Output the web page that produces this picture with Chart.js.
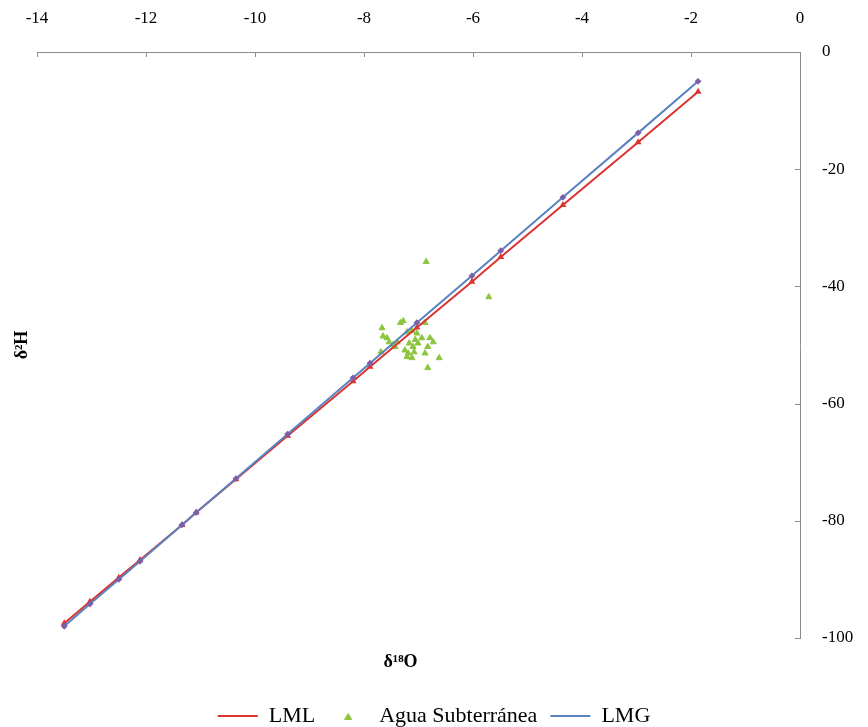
<!DOCTYPE html>
<html>
<head>
<meta charset="utf-8">
<script src="https://cdn.jsdelivr.net/npm/chart.js"></script>
<style>
    body { margin: 0; background: #fff; }
    #wrap { width: 868px; height: 727px; position: relative; }
</style>
</head>
<body>
<div id="wrap"><canvas id="isoChart"></canvas></div>
<script>
    // δ18O positions of the line points (same for both lines)
    const lineX = [-13.5, -13.03, -12.5, -12.11, -11.34, -11.08, -10.35, -9.4, -8.2, -7.89, -7.03, -6.02, -5.49, -4.35, -2.97, -1.87];
    // local meteoric line (LML)
    const lmlY = [-97.5, -93.8, -89.7, -86.7, -80.7, -78.6, -72.9, -65.5, -56.2, -53.7, -47.0, -39.2, -35.0, -26.1, -15.4, -6.8];
    // global meteoric line (LMG)
    const lmgY = [-98.0, -94.2, -90.0, -86.9, -80.7, -78.6, -72.8, -65.2, -55.6, -53.1, -46.2, -38.2, -33.9, -24.8, -13.8, -5.0];
    // groundwater samples
    const aguaX = [-6.86, -5.71, -7.67, -7.28, -7.33, -6.88, -7.65, -7.58, -7.54, -7.47, -7.39, -7.69, -7.21, -7.12, -7.03, -7.06, -7.17, -7.10, -7.01, -6.94, -6.79, -6.73, -6.83, -7.25, -7.19, -7.08, -7.12, -7.21, -6.88, -6.62, -6.83, -7.43];
    const aguaY = [-35.8, -41.8, -47.1, -45.9, -46.2, -46.2, -48.5, -48.8, -49.5, -50.0, -49.5, -51.2, -47.8, -47.6, -48.0, -49.1, -49.7, -50.3, -49.7, -48.8, -48.8, -49.5, -50.3, -50.9, -51.4, -51.2, -52.2, -52.0, -51.4, -52.2, -53.9, -50.3];
    const xTicks = [-14, -12, -10, -8, -6, -4, -2, 0];
    const yTicks = [0, -20, -40, -60, -80, -100];

    const serif = "'Liberation Serif', 'Times New Roman', serif";
    const green = '#8cc63f';
    const toPoints = (xs, ys) => xs.map((x, i) => ({ x: x, y: ys[i] }));

    // small triangle used as the legend symbol of the samples
    const legendTri = document.createElement('canvas');
    legendTri.width = 8;
    legendTri.height = 7;
    (function() {
        const c = legendTri.getContext('2d');
        c.fillStyle = green;
        c.beginPath();
        c.moveTo(4, 0);
        c.lineTo(8, 7);
        c.lineTo(0, 7);
        c.closePath();
        c.fill();
    })();

    // small tick marks pointing into the plot, like the original
    const innerTicks = {
        id: 'innerTicks',
        afterDraw(chart) {
            const ctx = chart.ctx;
            const area = chart.chartArea;
            const xs = chart.scales.x, ys = chart.scales.y;
            ctx.save();
            ctx.strokeStyle = '#8c8c8c';
            ctx.lineWidth = 1;
            ctx.beginPath();
            xTicks.forEach(v => {
                const px = Math.round(xs.getPixelForValue(v)) + 0.5;
                ctx.moveTo(px, area.top);
                ctx.lineTo(px, area.top + 5);
            });
            yTicks.forEach(v => {
                const py = Math.round(ys.getPixelForValue(v)) + 0.5;
                ctx.moveTo(area.right, py);
                ctx.lineTo(area.right - 5, py);
            });
            ctx.stroke();
            ctx.restore();
        }
    };

    new Chart(document.getElementById('isoChart'), {
        type: 'scatter',
        data: {
            datasets: [
                {
                    label: 'LML',
                    data: toPoints(lineX, lmlY),
                    showLine: true,
                    borderColor: '#dc3330',
                    backgroundColor: '#dc3330',
                    borderWidth: 2,
                    pointStyle: 'triangle',
                    pointRadius: 2,
                    pointHoverRadius: 2,
                    order: 2
                },
                {
                    label: 'Agua Subterránea',
                    data: toPoints(aguaX, aguaY),
                    showLine: false,
                    borderColor: green,
                    backgroundColor: green,
                    pointStyle: 'triangle',
                    pointRadius: 3.5,
                    pointHoverRadius: 3.5,
                    order: 3
                },
                {
                    label: 'LMG',
                    data: toPoints(lineX, lmgY),
                    showLine: true,
                    borderColor: '#5a82c0',
                    backgroundColor: '#7d5fa8',
                    pointBorderColor: '#7d5fa8',
                    borderWidth: 2,
                    pointStyle: 'rectRot',
                    pointRadius: 2,
                    pointHoverRadius: 2,
                    order: 1
                }
            ]
        },
        options: {
            responsive: true,
            maintainAspectRatio: false,
            animation: false,
            layout: { padding: { top: 0, left: 0, right: 0, bottom: -10 } },
            scales: {
                x: {
                    type: 'linear',
                    position: 'top',
                    min: -14,
                    max: 0,
                    afterFit: s => { s.height = 52; },
                    afterBuildTicks: s => { s.ticks = xTicks.map(v => ({ value: v })); },
                    grid: { display: true, drawOnChartArea: false, drawTicks: false },
                    border: { display: true, color: '#8c8c8c', width: 1 },
                    ticks: { padding: 23, color: '#000', font: { family: serif, size: 17 } }
                },
                y: {
                    type: 'linear',
                    position: 'right',
                    min: -100,
                    max: 0,
                    afterFit: s => { s.width = 68; },
                    afterBuildTicks: s => { s.ticks = yTicks.map(v => ({ value: v })); },
                    grid: { display: true, drawOnChartArea: false, drawTicks: false },
                    border: { display: true, color: '#8c8c8c', width: 1 },
                    ticks: { padding: 22, color: '#000', font: { family: serif, size: 17 } }
                },
                yTitle: {
                    type: 'linear',
                    position: 'left',
                    display: true,
                    min: -100,
                    max: 0,
                    afterFit: s => { s.width = 37; },
                    grid: { display: false },
                    border: { display: false },
                    ticks: { display: false },
                    title: { display: true, text: 'δ²H', color: '#000', padding: { top: 12, bottom: 0 }, font: { family: serif, size: 18, weight: 'bold' } }
                },
                xTitle: {
                    type: 'linear',
                    position: 'bottom',
                    display: true,
                    min: -14,
                    max: 0,
                    afterFit: s => { s.height = 54; },
                    grid: { display: false },
                    border: { display: false },
                    ticks: { display: false },
                    title: { display: true, text: 'δ¹⁸O        ', color: '#000', padding: { top: 0, bottom: 19 }, font: { family: serif, size: 18, weight: 'bold' } }
                }
            },
            plugins: {
                legend: {
                    position: 'bottom',
                    labels: {
                        color: '#000',
                        font: { family: serif, size: 22, lineHeight: 1 },
                        usePointStyle: true,
                        pointStyleWidth: 40,
                        boxHeight: 5,
                        padding: 13,
                        sort: (a, b) => a.datasetIndex - b.datasetIndex,
                        generateLabels: function(chart) {
                            const items = Chart.defaults.plugins.legend.labels.generateLabels(chart);
                            items.forEach(it => {
                                const ds = chart.data.datasets[it.datasetIndex];
                                if (ds.showLine) {
                                    it.pointStyle = 'line';
                                    it.strokeStyle = ds.borderColor;
                                    it.lineWidth = 2;
                                } else {
                                    it.pointStyle = legendTri;
                                    it.lineWidth = 0;
                                }
                            });
                            return items;
                        }
                    }
                },
                tooltip: { enabled: false }
            }
        },
        plugins: [innerTicks]
    });
</script>
</body>
</html>
